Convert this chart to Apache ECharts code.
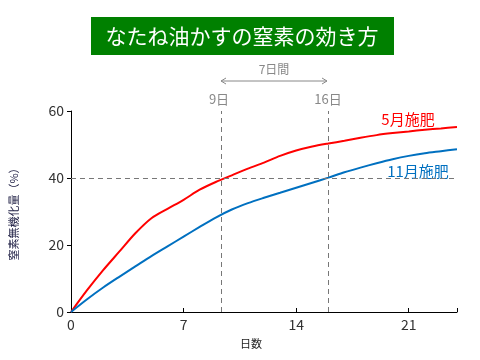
<!DOCTYPE html>
<html><head><meta charset="utf-8">
<script src="https://cdn.jsdelivr.net/npm/echarts@6/dist/echarts.min.js"></script>
<style>html,body{margin:0;padding:0;background:#fff}#c{width:480px;height:360px}</style>
</head><body><div id="c"></div>
<script>
var days = [0,1,2,3,4,5,6,7,8,9,10,11,12,13,14,15,16,17,18,19,20,21,22,23,24];
var may = [0,6.5,12.5,18,23.5,28,30.8,33.5,36.5,38.8,40.8,42.8,44.6,46.6,48.2,49.4,50.3,51.1,52,52.8,53.4,53.9,54.4,54.8,55.2];
var nov = [0,3.8,7.3,10.5,13.6,16.7,19.6,22.5,25.4,28.2,30.6,32.5,34.1,35.6,37.1,38.6,40.1,41.7,43.1,44.4,45.6,46.6,47.4,48.0,48.6];
var xTicks = [0,7,14,21];
var yTicks = [0,20,40,60];
var markDays = [9.35,16];
var refLevel = 40;

var F = '"Noto Sans CJK JP", "Noto Sans", sans-serif';
function pairs(v){ return days.map(function(d,i){ return [d, v[i]]; }); }
var chart = echarts.init(document.getElementById('c'));
chart.setOption({
  animation:false,
  grid:{left:69,right:23,top:111,bottom:48},
  xAxis:{type:'value',min:0,max:24,interval:7,
    axisLine:{lineStyle:{color:'#000',width:1}},
    axisTick:{inside:true,length:4,lineStyle:{color:'#000'}},
    splitLine:{show:false},
    axisLabel:{color:'#333',fontSize:14,fontFamily:F,margin:6,
      formatter:function(v){return xTicks.indexOf(v)>=0?String(v):'';}}},
  yAxis:{type:'value',min:0,max:60,interval:20,
    axisLine:{show:true,lineStyle:{color:'#000',width:1}},
    axisTick:{show:true,length:4,lineStyle:{color:'#000'}},
    splitLine:{show:false},
    axisLabel:{color:'#333',fontSize:14,fontFamily:F,margin:7,
      formatter:function(v){return yTicks.indexOf(v)>=0?String(v):'';}},
    name:'窒素無機化量（%）',nameLocation:'middle',nameGap:52,nameRotate:90,
    nameTextStyle:{color:'#1a1a40',fontSize:11,fontFamily:F}},
  series:[
    {type:'line',data:pairs(may),smooth:0.3,showSymbol:false,
      lineStyle:{color:'#ff0000',width:2},itemStyle:{color:'#ff0000'},z:3,
      markLine:{silent:true,symbol:'none',label:{show:false},
        lineStyle:{color:'#777',type:[5,4],width:1},
        data:markDays.map(function(d){return {xAxis:d};}).concat([{yAxis:refLevel}])}},
    {type:'line',data:pairs(nov),smooth:0.3,showSymbol:false,
      lineStyle:{color:'#0070c0',width:2},itemStyle:{color:'#0070c0'},z:3}
  ],
  graphic:[
    {type:'rect',shape:{x:91,y:17,width:303,height:38},style:{fill:'#008000'}},
    {type:'text',x:242,y:36,style:{text:'なたね油かすの窒素の効き方',fill:'#fff',font:'21px '+F,textAlign:'center',textVerticalAlign:'middle'}},
    {type:'text',x:274,y:69,style:{text:'7日間',fill:'#888',font:'12px '+F,textAlign:'center',textVerticalAlign:'middle'}},
    {type:'line',shape:{x1:221,y1:81,x2:327,y2:81},style:{stroke:'#888',lineWidth:1}},
    {type:'polyline',shape:{points:[[226,78],[221,81],[226,84]]},style:{stroke:'#888',lineWidth:1,fill:null}},
    {type:'polyline',shape:{points:[[322,78],[327,81],[322,84]]},style:{stroke:'#888',lineWidth:1,fill:null}},
    {type:'text',x:219,y:99,style:{text:'9日',fill:'#888',font:'13px '+F,textAlign:'center',textVerticalAlign:'middle'}},
    {type:'text',x:328,y:99,style:{text:'16日',fill:'#888',font:'13px '+F,textAlign:'center',textVerticalAlign:'middle'}},
    {type:'text',x:408,y:119,style:{text:'5月施肥',fill:'#ff0000',font:'15px '+F,textAlign:'center',textVerticalAlign:'middle'}},
    {type:'text',x:418,y:171,style:{text:'11月施肥',fill:'#0070c0',font:'15px '+F,textAlign:'center',textVerticalAlign:'middle'}},
    {type:'text',x:251,y:344,style:{text:'日数',fill:'#222',font:'11px '+F,textAlign:'center',textVerticalAlign:'middle'}}
  ]
});
</script></body></html>
